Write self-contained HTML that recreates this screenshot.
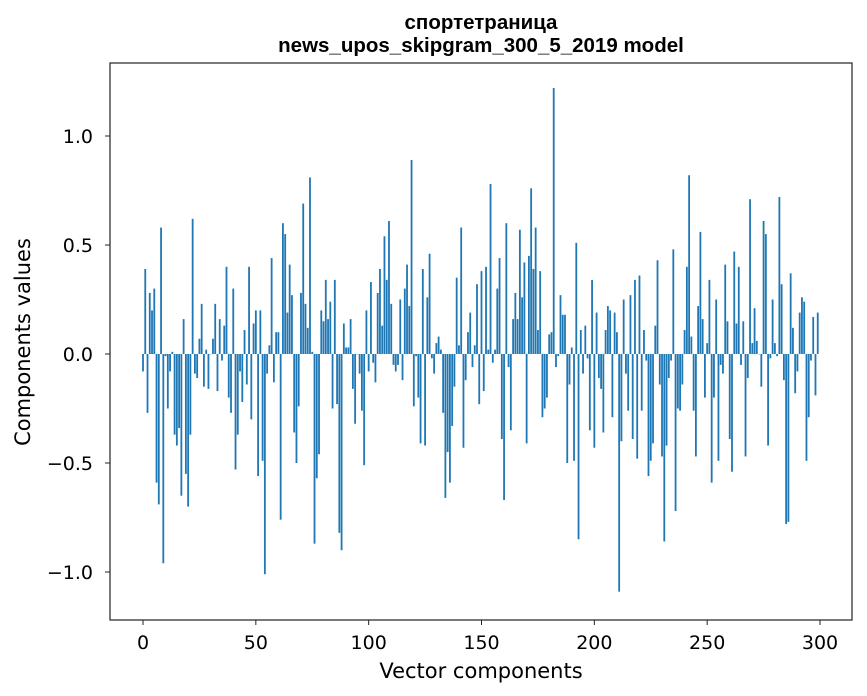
<!DOCTYPE html>
<html><head><meta charset="utf-8"><style>
html,body{margin:0;padding:0;background:#fff;}
svg{display:block;font-family:"DejaVu Sans","Liberation Sans",sans-serif;}
</style></head><body>
<svg id="chart" width="867" height="696" viewBox="0 0 867 696">
<rect x="0" y="0" width="867" height="696" fill="#fff"/>
<text x="481" y="29" text-anchor="middle" font-size="20.5" font-weight="bold" font-family="Liberation Sans, sans-serif">спортетраница</text>
<text x="481" y="52" text-anchor="middle" font-size="20.5" font-weight="bold" font-family="Liberation Sans, sans-serif">news_upos_skipgram_300_5_2019 model</text>
<g id="bars"></g>
<g id="xticks"></g>
<g id="yticks"></g>
<rect x="110" y="63" width="742" height="557" fill="none" stroke="#222" stroke-width="1.2"/>
<text x="481" y="678" text-anchor="middle" font-size="21">Vector components</text>
<text transform="translate(30,342) rotate(-90)" text-anchor="middle" font-size="21">Components values</text>
</svg>
<script>
const values = [
-0.08,0.39,-0.27,0.28,0.20,0.30,-0.59,-0.69,0.58,-0.96,-0.01,-0.25,-0.08,0.01,-0.37,-0.42,-0.34,-0.65,0.16,-0.55,-0.70,-0.37,0.62,-0.09,-0.11,0.07,0.23,-0.15,0.02,-0.16,0.00,0.07,0.23,-0.17,0.16,-0.03,0.13,0.40,-0.20,-0.27,0.30,-0.53,-0.37,-0.08,-0.22,0.11,-0.14,0.40,
-0.30,0.14,0.20,-0.56,0.20,-0.49,-1.01,-0.09,0.04,0.44,-0.13,0.10,0.10,-0.76,0.60,0.55,0.19,0.41,0.27,-0.36,-0.50,-0.24,0.28,0.69,0.23,0.12,0.81,0.01,-0.87,-0.57,-0.46,0.20,0.15,0.34,0.16,0.24,-0.25,0.34,-0.23,-0.82,-0.90,0.14,0.03,0.03,0.16,-0.16,-0.32,0.00,-0.09,-0.26,
-0.51,0.20,-0.08,0.33,-0.04,-0.13,0.28,0.39,0.13,0.54,0.34,0.61,0.23,-0.05,-0.08,-0.05,0.25,-0.12,0.30,0.41,0.22,0.89,-0.24,-0.01,-0.20,-0.41,0.39,-0.42,0.26,0.46,-0.02,-0.09,0.05,0.08,0.02,-0.27,-0.66,-0.45,-0.59,-0.33,-0.15,0.35,0.04,0.58,-0.43,-0.12,0.10,0.19,-0.06,0.04,
0.32,-0.23,0.38,-0.17,0.40,0.02,0.78,-0.04,0.02,0.30,0.44,-0.39,-0.67,0.60,-0.06,-0.35,0.16,0.28,0.16,0.57,0.26,0.42,-0.41,0.45,0.76,0.39,0.58,0.11,0.38,-0.29,-0.25,-0.20,0.09,0.10,1.22,-0.06,-0.01,0.27,0.18,0.18,-0.50,-0.14,0.03,-0.49,0.51,-0.85,0.11,-0.09,0.13,-0.02,
-0.35,0.34,-0.43,0.19,-0.11,-0.16,-0.36,0.11,0.22,0.20,-0.29,0.19,0.10,-1.09,-0.40,0.25,-0.09,-0.26,0.27,-0.39,0.34,-0.48,0.36,-0.26,0.11,-0.03,-0.56,-0.49,-0.41,0.13,0.43,-0.14,-0.47,-0.86,-0.42,-0.11,-0.03,0.48,-0.72,-0.25,-0.26,-0.14,0.11,0.40,0.82,0.08,-0.26,-0.47,0.22,0.56,
0.16,-0.20,0.05,0.34,-0.59,-0.20,0.25,-0.49,-0.05,-0.09,0.41,0.15,-0.39,-0.54,0.47,0.14,0.40,-0.05,0.15,-0.47,-0.11,0.71,0.05,0.21,0.06,0.00,-0.15,0.61,0.55,-0.42,-0.02,0.25,0.05,-0.01,0.72,0.32,-0.12,-0.78,-0.77,0.37,0.12,-0.18,-0.08,0.19,0.26,0.24,-0.49,-0.29,-0.03,0.17,-0.19,0.19
];
const xTickValues = [0,50,100,150,200,250,300];
const yTickValues = [-1.0,-0.5,0.0,0.5,1.0];
const yTickLabels = ["\u22121.0","\u22120.5","0.0","0.5","1.0"];

const NS = "http://www.w3.org/2000/svg";
function xScale(v){ return 143 + v * (677/300); }
function yScale(v){ return 354 - v * 218; }
const barsG = document.getElementById('bars');
const bw = 0.8 * (677/300);
values.forEach(function(v,i){
  const r = document.createElementNS(NS,'rect');
  const y0 = yScale(0), y1 = yScale(v);
  r.setAttribute('x', xScale(i) - bw/2);
  r.setAttribute('y', Math.min(y0,y1));
  r.setAttribute('width', bw);
  r.setAttribute('height', Math.max(Math.abs(y1-y0),0.3));
  r.setAttribute('fill', '#1f77b4');
  
  
  barsG.appendChild(r);
});
const xg = document.getElementById('xticks');
xTickValues.forEach(function(t){
  const x = xScale(t);
  const l = document.createElementNS(NS,'line');
  l.setAttribute('x1',x);l.setAttribute('x2',x);l.setAttribute('y1',620);l.setAttribute('y2',625);
  l.setAttribute('stroke','#222');
  
  
  xg.appendChild(l);
  const tx = document.createElementNS(NS,'text');
  tx.setAttribute('x',x);tx.setAttribute('y',649);tx.setAttribute('text-anchor','middle');tx.setAttribute('font-size','19');
  tx.textContent = String(t);
  
  
  xg.appendChild(tx);
});
const yg = document.getElementById('yticks');
yTickValues.forEach(function(t,i){
  const y = yScale(t);
  const l = document.createElementNS(NS,'line');
  l.setAttribute('x1',105);l.setAttribute('x2',110);l.setAttribute('y1',y);l.setAttribute('y2',y);
  l.setAttribute('stroke','#222');
  
  
  yg.appendChild(l);
  const tx = document.createElementNS(NS,'text');
  tx.setAttribute('x',93);tx.setAttribute('y',y+7);tx.setAttribute('text-anchor','end');tx.setAttribute('font-size','19');
  tx.textContent = yTickLabels[i];
  
  
  yg.appendChild(tx);
});
</script>
</body></html>
